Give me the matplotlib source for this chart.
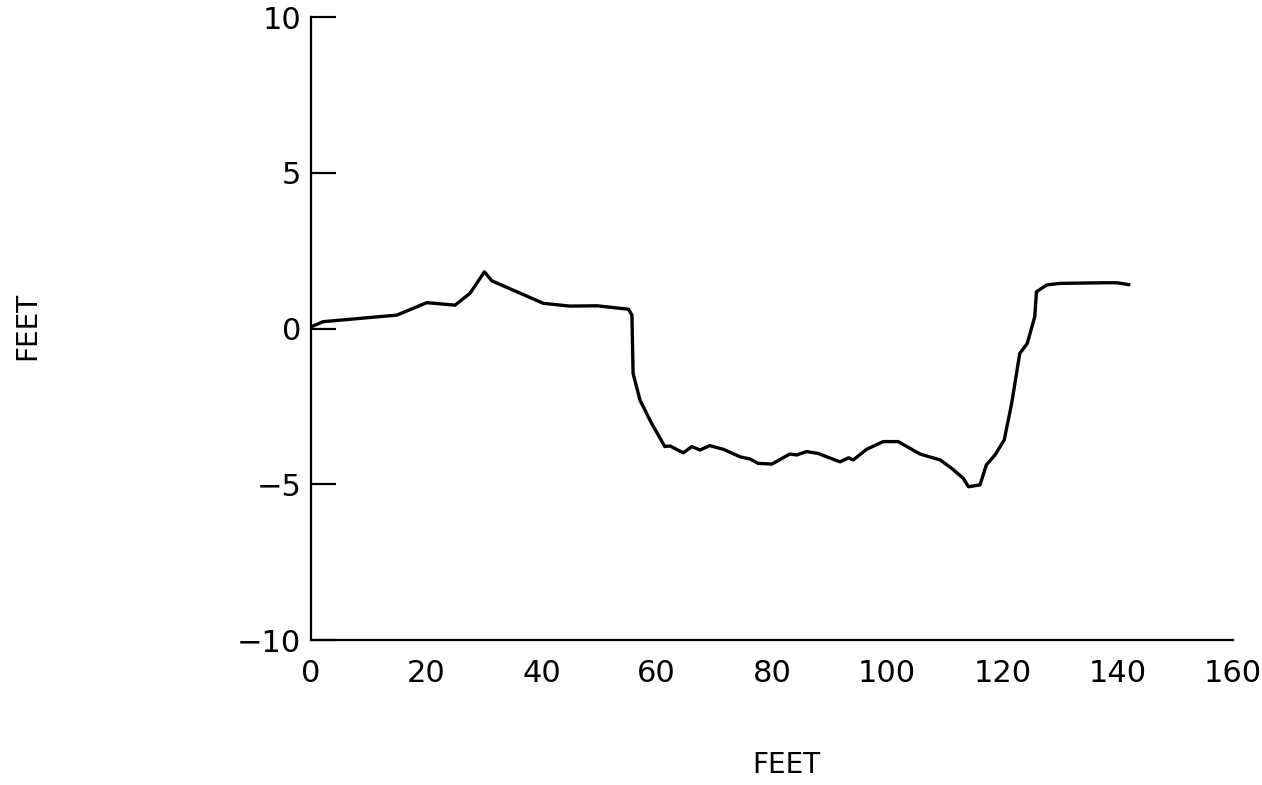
import matplotlib
matplotlib.use("Agg")
import matplotlib.pyplot as plt

# Profile data (distance in feet, elevation in feet)
dist = [0.1, 2.1, 14.9, 20.1, 25.0, 27.6, 30.1, 31.4, 40.3, 44.9, 49.6, 55.1,
        55.7, 55.9, 57.1, 59.1, 61.4, 62.3, 64.6, 66.1, 67.5, 69.2, 71.6,
        74.5, 76.2, 77.6, 80.0, 83.1, 84.3, 86.0, 88.0, 91.8, 93.3, 94.1,
        96.4, 99.3, 101.9, 105.7, 109.2, 111.2, 113.2, 114.1, 116.1, 117.2,
        118.7, 120.3, 121.6, 123.0, 124.3, 125.6, 125.9, 127.7, 130.0,
        138.1, 139.8, 141.9]
elev = [0.06, 0.22, 0.43, 0.83, 0.75, 1.13, 1.82, 1.53, 0.81, 0.72, 0.73, 0.62,
        0.43, -1.44, -2.30, -3.04, -3.79, -3.77, -3.99, -3.79, -3.90, -3.76,
        -3.88, -4.12, -4.19, -4.33, -4.35, -4.03, -4.06, -3.95, -4.01, -4.28,
        -4.15, -4.22, -3.88, -3.63, -3.63, -4.03, -4.22, -4.49, -4.81, -5.08,
        -5.02, -4.38, -4.06, -3.58, -2.40, -0.80, -0.48, 0.38, 1.18, 1.40,
        1.45, 1.47, 1.47, 1.41]

x_ticks = [0, 20, 40, 60, 80, 100, 120, 140, 160]
y_ticks = [-10, -5, 0, 5, 10]

plt.rcParams["font.family"] = ["DejaVu Sans"]

fig = plt.figure(figsize=(12.62, 7.85), dpi=100)
ax = fig.add_axes([0.2464, 0.1847, 0.7306, 0.7936])

ax.plot(dist, elev, color="black", linewidth=2.4, solid_joinstyle="round")

ax.set_xlim(0, 160)
ax.set_ylim(-10, 10)
ax.set_xticks(x_ticks)
ax.set_yticks(y_ticks)

for side in ("top", "right"):
    ax.spines[side].set_visible(False)
for side in ("left", "bottom"):
    ax.spines[side].set_linewidth(1.6)

ax.tick_params(axis="y", direction="in", length=18, width=1.6, pad=7,
               labelsize=22)
ax.tick_params(axis="x", length=0, pad=14, labelsize=22)

fig.text(0.0214, 0.585, "FEET", rotation=90, ha="center", va="center",
         fontsize=20)
fig.text(0.623, 0.0255, "FEET", ha="center", va="center", fontsize=20)

fig.savefig("out.png", dpi=100)
